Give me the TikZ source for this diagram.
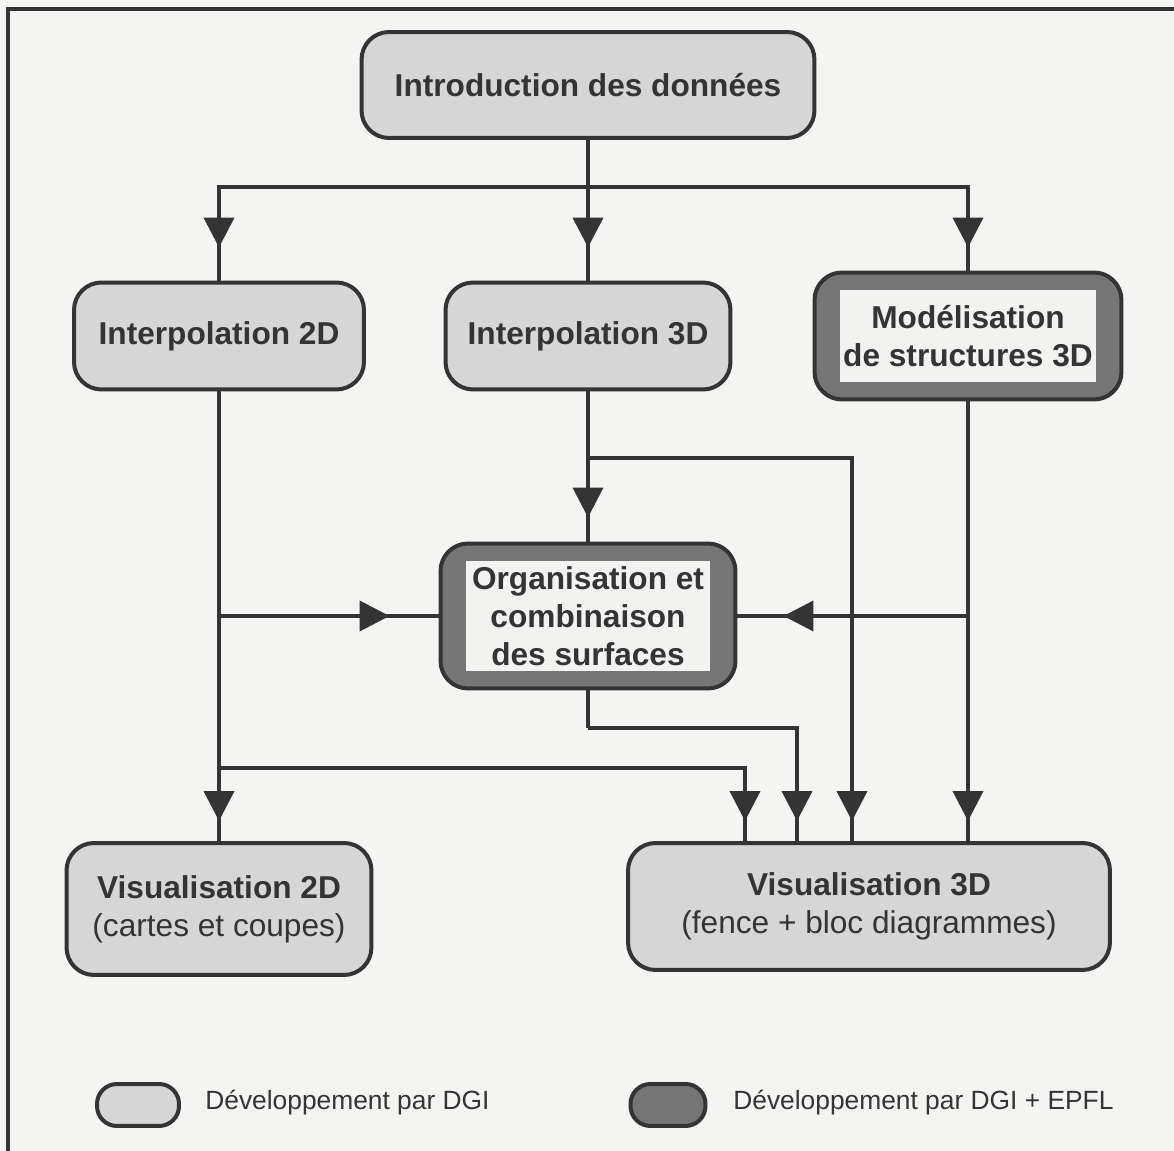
\documentclass[tikz,border=0pt]{standalone}
\usepackage{fontspec}
\setmainfont{Liberation Sans}
\usetikzlibrary{calc,arrows.meta,decorations.markings}
\definecolor{paper}{RGB}{244,244,242}
\definecolor{ink}{RGB}{52,52,52}
\definecolor{lightfill}{RGB}{214,214,214}
\definecolor{darkfill}{RGB}{118,118,118}
\definecolor{innerfill}{RGB}{242,242,240}

\begin{document}
\begin{tikzpicture}[x=0.02cm, y=-0.02cm]
    % one unit = one pixel of the scan, y downwards
    \tikzstyle{box}=[draw=ink, line width=0.08cm, rounded corners=0.55cm, inner sep=0, text=ink, align=center, font=\fontsize{18pt}{21.5pt}\selectfont]
    % developed by DGI
    \tikzstyle{dgi}=[box, fill=lightfill]
    % developed by DGI + EPFL
    \tikzstyle{epfl}=[box, fill=darkfill, path picture={\fill[innerfill, sharp corners] ([shift={(0.5cm,-0.34cm)}]path picture bounding box.north west) rectangle ([shift={(-0.5cm,0.34cm)}]path picture bounding box.south east);}]
    \tikzstyle{wire}=[draw=ink, line width=0.08cm]
    \tikzset{arr/.style={wire, postaction={decorate}, decoration={markings, mark=at position -#1 with {\arrow{Triangle[length=0.6cm, width=0.6cm]}}}}}
    \useasboundingbox (0,0) rectangle (1174,1151);
    \fill[paper] (0,0) rectangle (1174,1151);
    \draw[ink, line width=0.07cm] (8,1151) -- (8,9) -- (1174,9);
    % boxes
    \node[dgi, minimum width=9.06cm, minimum height=2.12cm] (INTRO) at (588,85) {\textbf{Introduction des données}};
    \node[dgi, minimum width=5.8cm, minimum height=2.14cm] (I2D) at (219,336) {\textbf{Interpolation 2D}};
    \node[dgi, minimum width=5.7cm, minimum height=2.14cm] (I3D) at (588,336) {\textbf{Interpolation 3D}};
    \node[epfl, minimum width=6.14cm, minimum height=2.54cm] (MOD) at (968,336) {\textbf{Modélisation}\\\textbf{de structures 3D}};
    \node[epfl, minimum width=5.9cm, minimum height=2.9cm] (ORG) at (588,616) {\textbf{Organisation et}\\\textbf{combinaison}\\\textbf{des surfaces}};
    \node[dgi, minimum width=6.1cm, minimum height=2.64cm] (V2D) at (219,909) {\textbf{Visualisation 2D}\\(cartes et coupes)};
    \node[dgi, minimum width=9.64cm, minimum height=2.54cm] (V3D) at (869,906.5) {\textbf{Visualisation 3D}\\(fence + bloc diagrammes)};
    % junctions
    \coordinate (J0) at (588,187);
    \coordinate (M1) at (588,458);
    \coordinate (M2) at (588,728);
    \coordinate (L1) at (I2D |- ORG);
    \coordinate (L2) at (219,768);
    \coordinate (R1) at (MOD |- ORG);
    \coordinate (X1) at (745,0);
    \coordinate (X2) at (797,0);
    \coordinate (X3) at (852,0);
    % connectors
    \draw[wire] (INTRO) -- (J0);
    \draw[arr=0.66cm] (J0) -| (I2D);
    \draw[arr=0.66cm] (J0) -- (I3D);
    \draw[arr=0.46cm] (J0) -| (MOD);
    \draw[arr=0.4cm] (I2D) -- (V2D);
    \draw[arr=0.98cm] (L1) -- (ORG);
    \draw[arr=0.4cm] (L2) -| (X1 |- V3D.north);
    \draw[arr=0.48cm] (I3D) -- (ORG);
    \draw[arr=0.4cm] (M1) -| (X3 |- V3D.north);
    \draw[wire] (ORG) -- (M2);
    \draw[arr=0.4cm] (M2) -| (X2 |- V3D.north);
    \draw[arr=0.4cm] (MOD) -- (MOD |- V3D.north);
    \draw[arr=0.92cm] (R1) -- (ORG);
    % legend
    \node[dgi, minimum width=1.64cm, minimum height=0.84cm, rounded corners=0.4cm] (KEY1) at (138,1105) {};
    \node[box, fill=darkfill, minimum width=1.5cm, minimum height=0.84cm, rounded corners=0.4cm] (KEY2) at (668,1105) {};
    \node[anchor=west, inner sep=0, text=ink, font=\fontsize{15pt}{18pt}\selectfont] (TXT1) at (205,1103) {Développement par DGI};
    \node[anchor=west, inner sep=0, text=ink, font=\fontsize{15pt}{18pt}\selectfont] (TXT2) at (733,1103) {Développement par DGI + EPFL};
\end{tikzpicture}
\end{document}
